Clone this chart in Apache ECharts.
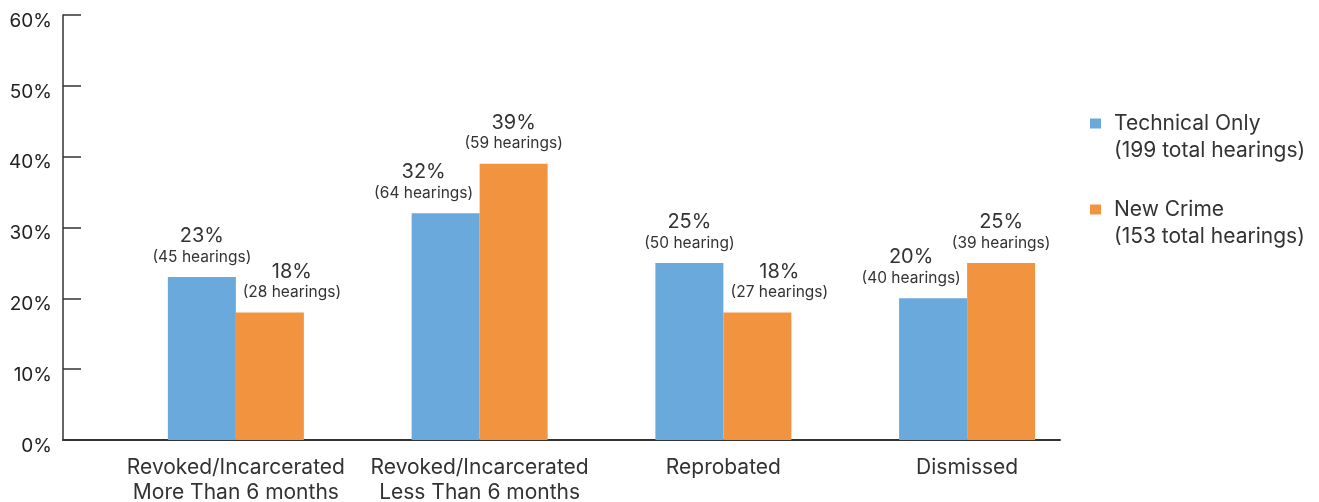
<!DOCTYPE html>
<html>
<head>
<meta charset="utf-8">
<script src="https://cdn.jsdelivr.net/npm/echarts@6/dist/echarts.min.js"></script>
<style>
  html, body { margin: 0; padding: 0; background: #ffffff; }
  #chart { width: 1319px; height: 502px; }
</style>
</head>
<body>
<div id="chart"></div>
<script>
// Hearing outcomes by violation type
const categories = [
  'Revoked/Incarcerated\nMore Than 6 months',
  'Revoked/Incarcerated\nLess Than 6 months',
  'Reprobated',
  'Dismissed'
];
const seriesNames = ['Technical Only', 'New Crime'];
const seriesTotals = ['(199 total hearings)', '(153 total hearings)'];

const technicalPct = [23, 32, 25, 20];
const technicalNotes = ['(45 hearings)', '(64 hearings)', '(50 hearing)', '(40 hearings)'];

const newCrimePct = [18, 39, 18, 25];
const newCrimeNotes = ['(28 hearings)', '(59 hearings)', '(27 hearings)', '(39 hearings)'];

const yTicks = [0, 10, 20, 30, 40, 50, 60];

const FONT = 'Inter, "Noto Sans", sans-serif';
const TEXT = '#333333';
const COLORS = ['#69A9DC', '#F29340'];

// The shorter bar of each pair nudges its label outward so the two labels don't collide.
function buildItems(values, partner, side) {
  return values.map(function (v, i) {
    const item = { value: v };
    if (v < partner[i]) item.label = { offset: [side * 22, 0] };
    return item;
  });
}

function barLabel(notes) {
  return {
    show: true,
    position: 'top',
    distance: 10,
    formatter: function (p) { return '{p|' + p.value + '%}\n{h|' + notes[p.dataIndex] + '}'; },
    rich: {
      p: { fontFamily: FONT, fontSize: 20, lineHeight: 22, color: TEXT, align: 'center' },
      h: { fontFamily: FONT, fontSize: 15.5, lineHeight: 20, color: TEXT, align: 'center' }
    }
  };
}

const chart = echarts.init(document.getElementById('chart'), null, { renderer: 'canvas' });

chart.setOption({
  animation: false,
  backgroundColor: '#ffffff',
  textStyle: { fontFamily: FONT },
  grid: [
    { left: 114, right: 230, top: 15, bottom: 62, containLabel: false, outerBoundsMode: 'none' },
    { left: 63, right: 259, top: 15, bottom: 62, containLabel: false, outerBoundsMode: 'none' }
  ],
  legend: {
    orient: 'vertical',
    left: 1090,
    top: 83,
    padding: 0,
    itemGap: 5,
    itemWidth: 11,
    itemHeight: 10,
    icon: 'rect',
    selectedMode: false,
    data: seriesNames,
    // leading empty line keeps the series name level with the colour swatch
    formatter: function (name) { return '\n' + name + '\n' + seriesTotals[seriesNames.indexOf(name)]; },
    textStyle: { fontFamily: FONT, fontSize: 21, lineHeight: 27, color: TEXT, padding: [0, 0, 0, 8] }
  },
  xAxis: [
    {
      type: 'category',
      gridIndex: 0,
      data: categories,
      axisLine: { show: false },
      axisTick: { show: false },
      axisLabel: { interval: 0, fontFamily: FONT, fontSize: 21, lineHeight: 25, color: TEXT, margin: 15 }
    },
    {
      type: 'value',
      gridIndex: 1,
      min: 0,
      max: 1,
      axisLine: { show: true, lineStyle: { color: '#333333', width: 2 } },
      axisTick: { show: false },
      axisLabel: { show: false },
      splitLine: { show: false }
    }
  ],
  yAxis: [
    {
      type: 'value',
      gridIndex: 0,
      min: yTicks[0],
      max: yTicks[yTicks.length - 1],
      interval: yTicks[1] - yTicks[0],
      show: false
    },
    {
      type: 'value',
      gridIndex: 1,
      min: yTicks[0],
      max: yTicks[yTicks.length - 1],
      interval: yTicks[1] - yTicks[0],
      axisLine: { show: true, lineStyle: { color: '#333333', width: 1.5 } },
      axisTick: { show: true, inside: true, length: 18, lineStyle: { color: '#333333', width: 1.5 } },
      axisLabel: {
        formatter: '{value}%', fontFamily: FONT, fontSize: 19, color: '#222222', margin: 11,
        verticalAlign: 'top', lineHeight: 12
      },
      splitLine: { show: false }
    }
  ],
  series: [
    {
      name: seriesNames[0],
      type: 'bar',
      xAxisIndex: 0,
      yAxisIndex: 0,
      barWidth: 68,
      barGap: '0%',
      itemStyle: { color: COLORS[0] },
      label: barLabel(technicalNotes),
      data: buildItems(technicalPct, newCrimePct, -1)
    },
    {
      name: seriesNames[1],
      type: 'bar',
      xAxisIndex: 0,
      yAxisIndex: 0,
      barWidth: 68,
      barGap: '0%',
      itemStyle: { color: COLORS[1] },
      label: barLabel(newCrimeNotes),
      data: buildItems(newCrimePct, technicalPct, 1)
    }
  ]
});
</script>
</body>
</html>
